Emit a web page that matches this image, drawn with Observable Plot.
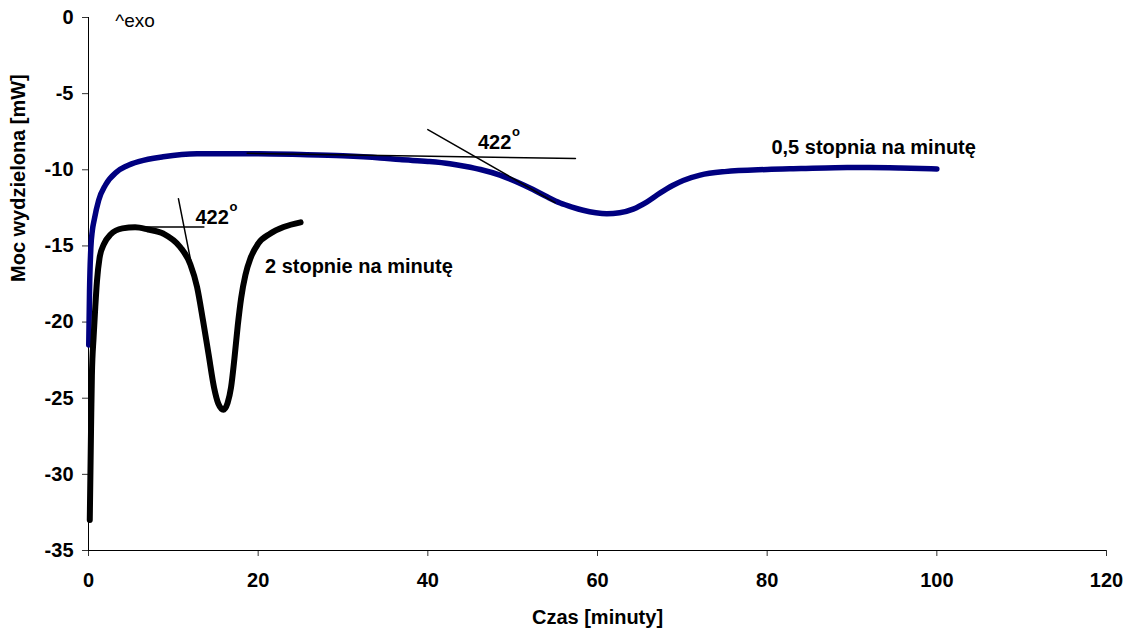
<!DOCTYPE html>
<html><head><meta charset="utf-8">
<script src="https://cdn.jsdelivr.net/npm/d3@7"></script>
<script src="https://cdn.jsdelivr.net/npm/@observablehq/plot@0.6"></script>
<style>
body{margin:0;background:#fff;}
#chart svg{display:block;}
</style>
</head><body><div id="chart"></div>
<script>
// Axis ticks
const xTicks = [0, 20, 40, 60, 80, 100, 120];
const yTicks = [-35, -30, -25, -20, -15, -10, -5, 0];

// Series "0,5 stopnia na minutę" (time in minutes, power in mW)
const slowTime = [0.03, 0.12, 0.28, 0.45, 0.67, 1.2, 2.0, 3.3, 4.5, 6, 8.8, 12.8, 20, 25, 30, 34.4, 36.7, 40, 42.6, 44.5, 46.2, 48.5, 50.5, 52.4, 54, 55.6, 57, 58.3, 59.8, 61.1, 62.6, 64.2, 65.8, 67.4, 68.8, 70.1, 72.1, 75, 80, 84, 88, 92, 95.7, 100];
const slowPower = [-21.5, -18, -15.1, -14.0, -13.3, -12.0, -11.0, -10.15, -9.75, -9.45, -9.15, -8.95, -8.95, -9.0, -9.08, -9.22, -9.33, -9.45, -9.6, -9.78, -9.98, -10.35, -10.8, -11.3, -11.76, -12.18, -12.45, -12.66, -12.82, -12.88, -12.82, -12.58, -12.12, -11.52, -11.05, -10.7, -10.35, -10.12, -9.98, -9.92, -9.86, -9.85, -9.88, -9.95];

// Series "2 stopnie na minutę"
const fastTime = [0.15, 0.3, 0.4, 0.6, 0.8, 1.0, 1.3, 1.8, 2.6, 4.0, 5.5, 7.0, 8.85, 10.8, 12.0, 12.8, 13.5, 14.15, 14.8, 15.3, 15.9, 16.4, 16.8, 17.2, 17.6, 18.0, 18.5, 19.1, 20.0, 21.4, 23.0, 25.0];
const fastPower = [-33.0, -27, -23.5, -21, -19, -17.3, -15.8, -14.9, -14.25, -13.85, -13.78, -13.92, -14.2, -15.07, -16.2, -17.7, -19.9, -22.1, -24.3, -25.35, -25.75, -25.3, -24.3, -22.4, -20.2, -18.4, -16.9, -15.8, -14.85, -14.2, -13.76, -13.45];

// Onset tangent lines (pairs of endpoints)
const tangentId = ["slowH", "slowH", "slowS", "slowS", "fastH", "fastH", "fastS", "fastS"];
const tangentTime = [18.7, 57.4, 40.0, 55.0, 5.5, 13.6, 10.6, 12.2];
const tangentPower = [-8.92, -9.26, -7.36, -12.15, -13.76, -13.76, -11.9, -16.39];

// Annotations (baseline anchor positions)
const labelText = ["422", "422", "0,5 stopnia na minutę", "2 stopnie na minutę"];
const labelTime = [45.9, 12.6, 80.5, 20.8];
const labelPower = [-8.65, -13.58, -8.94, -16.8];
const supText = ["o", "o"];
const supTime = [45.9, 12.6];
const supPower = [-8.65, -13.58];
const exoText = ["^exo"];
const exoTime = [3.15];
const exoPower = [-0.64];

const slow = slowTime.map((t, i) => ({t, p: slowPower[i]}));
const fast = fastTime.map((t, i) => ({t, p: fastPower[i]}));
const tangents = tangentTime.map((t, i) => ({id: tangentId[i], t, p: tangentPower[i]}));
const labels = labelText.map((s, i) => ({s, t: labelTime[i], p: labelPower[i]}));
const sups = supText.map((s, i) => ({s, t: supTime[i], p: supPower[i]}));
const exo = exoText.map((s, i) => ({s, t: exoTime[i], p: exoPower[i]}));

const FONT = "'Liberation Sans', Arial, sans-serif";

const chart = Plot.plot({
  width: 1130,
  height: 632,
  marginLeft: 88,
  marginTop: 17,
  marginRight: 24,
  marginBottom: 82,
  style: {fontFamily: FONT, fontSize: "20px", color: "black", background: "white"},
  x: {domain: [0, 120]},
  y: {domain: [-35, 0]},
  marks: [
    Plot.axisX({ticks: xTicks, tickSize: 6, tickPadding: 16, tickFormat: d => String(d), label: null, fontSize: 20, stroke: "#333"}),
    Plot.axisY({ticks: yTicks, tickSize: 6, tickPadding: 9, tickFormat: d => String(d), label: null, fontSize: 20, stroke: "#333"}),
    Plot.ruleX([0], {y1: -35, y2: 0, stroke: "black", strokeWidth: 1}),
    Plot.ruleY([-35], {x1: 0, x2: 120, stroke: "black", strokeWidth: 1}),
    Plot.line(slow, {x: "t", y: "p", stroke: "#000080", strokeWidth: 5.5, curve: "monotone-x", strokeLinecap: "round", strokeLinejoin: "round"}),
    Plot.line(fast, {x: "t", y: "p", stroke: "black", strokeWidth: 6, curve: "monotone-x", strokeLinecap: "round", strokeLinejoin: "round"}),
    Plot.line(tangents, {x: "t", y: "p", z: "id", stroke: "black", strokeWidth: 1.5}),
    Plot.text(labels, {x: "t", y: "p", text: "s", textAnchor: "start", lineAnchor: "middle", dy: -6.5, fontSize: 20, fill: "black"}),
    Plot.text(sups, {x: "t", y: "p", text: "s", textAnchor: "start", lineAnchor: "middle", dx: 34, dy: -17, fontSize: 13, fill: "black"}),
    Plot.text(exo, {x: "t", y: "p", text: "s", textAnchor: "start", lineAnchor: "middle", dy: -6.5, fontSize: 19, fill: "black"}),
    Plot.text(["Czas [minuty]"], {frameAnchor: "bottom", lineAnchor: "middle", dy: 67, fontSize: 20, fill: "black"}),
    Plot.text(["Moc wydzielona [mW]"], {frameAnchor: "left", lineAnchor: "middle", rotate: -90, dx: -70, dy: -2, fontSize: 20, fill: "black"})
  ]
});
d3.select(chart).selectAll("text")
  .style("font-weight", function() { return exoText.includes(this.textContent) ? "normal" : "bold"; });
document.getElementById("chart").appendChild(chart);
</script>
</body></html>
